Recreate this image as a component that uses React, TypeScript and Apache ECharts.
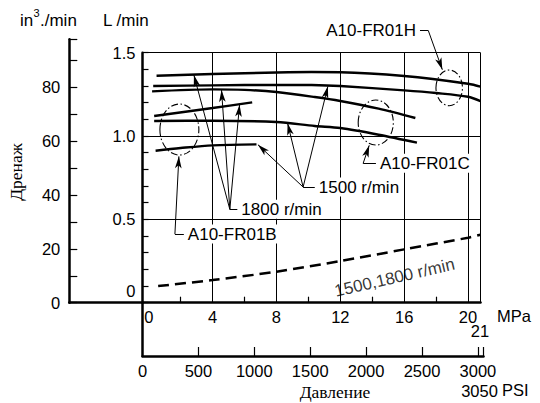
import React, { useEffect, useRef } from 'react';
import * as echarts from 'echarts';

// ---- axis definitions ----
const MPA_MIN = -0.39;
const MPA_MAX = 20.78;
const LPM_MAX = 1.5;
const LPM_EXT_MAX = 1.8162; // same L/min scale, extended up to the top of the page
const IN3_MAX = 97.8;
const PSI_MAX = 3050;

const mpaLabels = [0, 4, 8, 12, 16, 20];
const mpaEndLabel = '21';
const mpaMinorTicks = [2, 6, 10, 14, 18];
const mpaGridLines = [4, 8, 12, 16, 20];
const lpmGridLines = [0.5, 1.0, 1.5];
const lpmLabels = [0, 0.5, 1.0, 1.5];
const in3Labels = [0, 20, 40, 60, 80];
const psiLabels = [0, 500, 1000, 1500, 2000, 2500, 3000, 3050];
const psiTicks = [500, 1000, 1500, 2000, 2500, 3000, 3050];

// ---- series values: [MPa, L/min] ----
const fr01h1800 = [[0.49, 1.362], [4, 1.372], [8, 1.381], [10.2, 1.384], [12, 1.383], [16, 1.36], [20, 1.314], [20.78, 1.296]];
const fr01h1500 = [[0.28, 1.3], [4, 1.304], [8, 1.307], [10.2, 1.306], [12, 1.3], [16, 1.274], [18, 1.258], [20, 1.236], [20.78, 1.21]];
const fr01c1800 = [[0.21, 1.268], [4, 1.28], [6, 1.277], [8, 1.264], [10.4, 1.234], [12, 1.21], [14.4, 1.164], [16.7, 1.108]];
const fr01c1500 = [[0.34, 1.09], [4, 1.092], [8, 1.084], [10.4, 1.06], [12, 1.048], [14.4, 1.008], [16.8, 0.96]];
const fr01b1800 = [[0.34, 1.12], [4, 1.168], [6.48, 1.202]];
const fr01b1500 = [[0.43, 0.912], [2, 0.928], [4, 0.944], [6.75, 0.95]];
const commonDrain = [[0.59, 0.1], [4, 0.136], [8, 0.186], [12, 0.25], [16, 0.32], [20, 0.39], [20.78, 0.408]];

// ---- ellipses: [cx MPa, cy L/min, rx MPa, ry L/min] ----
const ellipses = [
  [1.92, 1.039, 1.22, 0.153],
  [14.22, 1.081, 1.1, 0.135],
  [18.82, 1.289, 0.83, 0.107],
];

// ---- annotations (data coords) ----
const hub1800 = [5.08, 0.56];
const tips1800 = [[2.83, 1.366], [4.56, 1.276], [5.69, 1.188]];
const end1800 = [5.55, 0.56];
const hub1500 = [9.67, 0.694];
const tips1500 = [[6.84, 0.948], [8.7, 1.076], [11.22, 1.298]];
const end1500 = [10.4, 0.694];
const fr01bCorner = [1.64, 0.412];
const fr01bTip = [1.89, 0.878];
const fr01bEnd = [2.2, 0.412];
const fr01cCorner = [13.43, 0.836];
const fr01cTip = [13.81, 0.944];
const fr01cEnd = [14.23, 0.836];
const fr01hCorner = [17.51, 1.633];
const fr01hTip = [18.39, 1.398];
const fr01hEnd = [16.99, 1.633];
const commonLabelPos = [15.4, 0.15];

const SANS = '"Liberation Sans", Arial, Helvetica, sans-serif';
const SERIF = '"Liberation Serif", "Times New Roman", serif';
const TICK_FS = 16.5;
const ANN_FS = 17;

export default function App() {
  const ref = useRef<HTMLDivElement>(null);

  useEffect(() => {
    if (!ref.current) return;
    const chart = echarts.init(ref.current, undefined, { renderer: 'svg' });

    const annLabel = (text: string) => ({
      show: true,
      position: 'end',
      distance: 3,
      formatter: text,
      fontSize: ANN_FS,
      fontFamily: SANS,
      color: '#000',
      backgroundColor: '#fff',
      padding: [1, 1],
    });

    const arrowLine = (from: number[], to: number[]) => [
      { coord: from, symbol: 'none' },
      { coord: to, symbol: 'arrow', symbolSize: [5, 12] },
    ];
    const labelLine = (from: number[], to: number[], text: string) => [
      { coord: from, symbol: 'none', label: annLabel(text) },
      { coord: to, symbol: 'none' },
    ];

    const curve = (name: string, data: number[][]) => ({
      name,
      type: 'line',
      xAxisIndex: 0,
      yAxisIndex: 0,
      data,
      smooth: 0.3,
      showSymbol: false,
      symbol: 'none',
      z: 3,
      lineStyle: { color: '#000', width: 2.4 },
    });

    const hiddenAxis = (gridIndex: number, min: number, max: number) => ({
      gridIndex,
      type: 'value',
      min,
      max,
      show: false,
      axisLine: { show: false, onZero: false },
      axisTick: { show: false },
      axisLabel: { show: false },
      splitLine: { show: false },
    });

    const option: any = {
      animation: false,
      backgroundColor: '#fff',
      grid: [
        { left: 142.5, top: 52.7, width: 338, height: 250 },
        { left: 69.3, top: 39.3, width: 411.2, height: 263.4 },
        { left: 142.5, top: 302.7, width: 341, height: 53.3 },
        { left: 142.5, top: 0, width: 338, height: 302.7 },
      ],
      xAxis: [
        {
          gridIndex: 0,
          type: 'value',
          min: MPA_MIN,
          max: MPA_MAX,
          axisLine: { show: false, onZero: false },
          splitLine: { show: false },
          axisTick: {
            show: true,
            inside: true,
            length: 6,
            customValues: mpaMinorTicks,
            lineStyle: { color: '#000', width: 1.2 },
          },
          axisLabel: {
            customValues: mpaLabels,
            margin: 6,
            fontSize: TICK_FS,
            fontFamily: SANS,
            color: '#000',
          },
        },
        {
          gridIndex: 1,
          type: 'value',
          min: 0,
          max: 1,
          axisLine: { show: true, onZero: false, lineStyle: { color: '#000', width: 2.5 } },
          axisTick: { show: false },
          axisLabel: { show: false },
          splitLine: { show: false },
        },
        {
          gridIndex: 2,
          type: 'value',
          min: 0,
          max: PSI_MAX,
          axisLine: { show: true, onZero: false, lineStyle: { color: '#000', width: 2.5 } },
          splitLine: { show: false },
          axisTick: {
            show: true,
            inside: true,
            length: 9,
            customValues: psiTicks,
            lineStyle: { color: '#000', width: 1.2 },
          },
          axisLabel: {
            customValues: psiLabels,
            margin: 6,
            fontSize: TICK_FS,
            fontFamily: SANS,
            color: '#000',
            formatter: (v: number) => (v === 3050 ? '{c|3050}' : String(v)),
            rich: { c: { fontSize: TICK_FS, fontFamily: SANS, color: '#000', padding: [20, 8, 0, 0] } },
          },
        },
        hiddenAxis(3, MPA_MIN, MPA_MAX),
      ],
      yAxis: [
        {
          gridIndex: 0,
          type: 'value',
          min: 0,
          max: LPM_MAX,
          interval: 0.1,
          axisLine: { show: true, onZero: false, lineStyle: { color: '#000', width: 2.5 } },
          splitLine: { show: false },
          axisTick: { show: true, inside: true, length: 6, lineStyle: { color: '#000', width: 1.2 } },
          axisLabel: {
            customValues: lpmLabels,
            margin: 7,
            fontSize: TICK_FS,
            fontFamily: SANS,
            color: '#000',
            formatter: (v: number) => (v === 0 ? '{z|0}' : v.toFixed(1)),
            rich: { z: { fontSize: TICK_FS, fontFamily: SANS, color: '#000', padding: [0, 0, 23, 0] } },
          },
        },
        {
          gridIndex: 1,
          type: 'value',
          min: 0,
          max: IN3_MAX,
          interval: 10,
          axisLine: { show: true, onZero: false, lineStyle: { color: '#000', width: 2.5 } },
          splitLine: { show: false },
          axisTick: { show: true, inside: true, length: 8, lineStyle: { color: '#000', width: 1.2 } },
          axisLabel: {
            customValues: in3Labels,
            margin: 9,
            fontSize: TICK_FS,
            fontFamily: SANS,
            color: '#000',
          },
        },
        {
          gridIndex: 2,
          type: 'value',
          min: 0,
          max: 1,
          axisLine: { show: true, onZero: false, lineStyle: { color: '#000', width: 2.5 } },
          axisTick: { show: false },
          axisLabel: { show: false },
          splitLine: { show: false },
        },
        hiddenAxis(3, 0, LPM_EXT_MAX),
      ],
      series: [
        {
          name: 'grid',
          type: 'line',
          xAxisIndex: 0,
          yAxisIndex: 0,
          data: [],
          z: 1,
          markLine: {
            silent: true,
            symbol: 'none',
            label: { show: false },
            lineStyle: { color: '#000', width: 1, type: 'solid' },
            data: [
              ...mpaGridLines.map((v) => ({ xAxis: v })),
              { xAxis: MPA_MAX },
              ...lpmGridLines.map((v) => ({ yAxis: v })),
            ],
          },
        },
        curve('A10-FR01H 1800', fr01h1800),
        curve('A10-FR01H 1500', fr01h1500),
        curve('A10-FR01C 1800', fr01c1800),
        curve('A10-FR01C 1500', fr01c1500),
        curve('A10-FR01B 1800', fr01b1800),
        curve('A10-FR01B 1500', fr01b1500),
        {
          name: '1500,1800 r/min',
          type: 'line',
          xAxisIndex: 0,
          yAxisIndex: 0,
          data: commonDrain,
          smooth: 0.3,
          showSymbol: false,
          symbol: 'none',
          z: 3,
          lineStyle: { color: '#000', width: 2.5, type: [11, 6] },
        },
        {
          name: 'ellipses',
          type: 'custom',
          xAxisIndex: 0,
          yAxisIndex: 0,
          data: ellipses,
          z: 3,
          silent: true,
          renderItem: (params: any, api: any) => {
            const c = api.coord([api.value(0), api.value(1)]);
            const s = api.size([api.value(2), api.value(3)]);
            return {
              type: 'ellipse',
              shape: { cx: c[0], cy: c[1], rx: s[0], ry: s[1] },
              style: { fill: 'none', stroke: '#000', lineWidth: 1.1, lineDash: [7, 2.5, 1.5, 2.5] },
            };
          },
        },
        {
          name: 'annotations',
          type: 'line',
          xAxisIndex: 0,
          yAxisIndex: 0,
          data: [],
          z: 4,
          clip: false,
          markLine: {
            silent: true,
            symbol: ['none', 'none'],
            label: { show: false },
            lineStyle: { color: '#000', width: 1, type: 'solid' },
            data: [
              ...tips1800.map((t) => arrowLine(hub1800, t)),
              labelLine(hub1800, end1800, '1800 r/min'),
              ...tips1500.map((t) => arrowLine(hub1500, t)),
              labelLine(hub1500, end1500, '1500 r/min'),
              arrowLine(fr01bCorner, fr01bTip),
              labelLine(fr01bCorner, fr01bEnd, 'A10-FR01B'),
              arrowLine(fr01cCorner, fr01cTip),
              labelLine(fr01cCorner, fr01cEnd, 'A10-FR01C'),
            ],
          },
        },
        {
          name: 'annotationsTop',
          type: 'line',
          xAxisIndex: 3,
          yAxisIndex: 3,
          data: [],
          z: 4,
          clip: false,
          markLine: {
            silent: true,
            symbol: ['none', 'none'],
            label: { show: false },
            lineStyle: { color: '#000', width: 1, type: 'solid' },
            data: [
              arrowLine(fr01hCorner, fr01hTip),
              labelLine(fr01hCorner, fr01hEnd, 'A10-FR01H'),
            ],
          },
        },
        {
          name: 'commonLabel',
          type: 'scatter',
          xAxisIndex: 0,
          yAxisIndex: 0,
          data: [commonLabelPos],
          symbolSize: 1,
          z: 4,
          itemStyle: { color: 'transparent' },
          label: {
            show: true,
            position: 'inside',
            rotate: 13,
            formatter: '1500,1800 r/min',
            fontSize: ANN_FS,
            fontFamily: SANS,
            color: '#000',
            backgroundColor: '#fff',
          },
        },
      ],
      graphic: [
        { type: 'text', x: 20, y: 20, style: { text: 'in', fontSize: ANN_FS, fontFamily: SANS, fill: '#000', textVerticalAlign: 'middle' } },
        { type: 'text', x: 33.5, y: 13, style: { text: '3', fontSize: 11, fontFamily: SANS, fill: '#000', textVerticalAlign: 'middle' } },
        { type: 'text', x: 40, y: 20, style: { text: './min', fontSize: ANN_FS, fontFamily: SANS, fill: '#000', textVerticalAlign: 'middle' } },
        { type: 'text', x: 103, y: 20, style: { text: 'L /min', fontSize: ANN_FS, fontFamily: SANS, fill: '#000', textVerticalAlign: 'middle' } },
        { type: 'text', x: 497, y: 316, style: { text: 'MPa', fontSize: TICK_FS, fontFamily: SANS, fill: '#000', textVerticalAlign: 'middle' } },
        { type: 'text', x: 480, y: 331, style: { text: mpaEndLabel, fontSize: TICK_FS, fontFamily: SANS, fill: '#000', textAlign: 'center', textVerticalAlign: 'middle' } },
        { type: 'text', x: 502, y: 390, style: { text: 'PSI', fontSize: TICK_FS, fontFamily: SANS, fill: '#000', textVerticalAlign: 'middle' } },
        { type: 'text', x: 335, y: 392, style: { text: 'Давление', fontSize: 17.5, fontFamily: SERIF, fill: '#000', textAlign: 'center', textVerticalAlign: 'middle' } },
        { type: 'text', x: 16, y: 172, rotation: Math.PI / 2, style: { text: 'Дренаж', fontSize: 17.5, fontFamily: SERIF, fill: '#000', textAlign: 'center', textVerticalAlign: 'middle' } },
      ],
    };

    chart.setOption(option);
    return () => chart.dispose();
  }, []);

  return <div ref={ref} style={{ position: 'fixed', left: 0, top: 0, width: 540, height: 403 }} />;
}
